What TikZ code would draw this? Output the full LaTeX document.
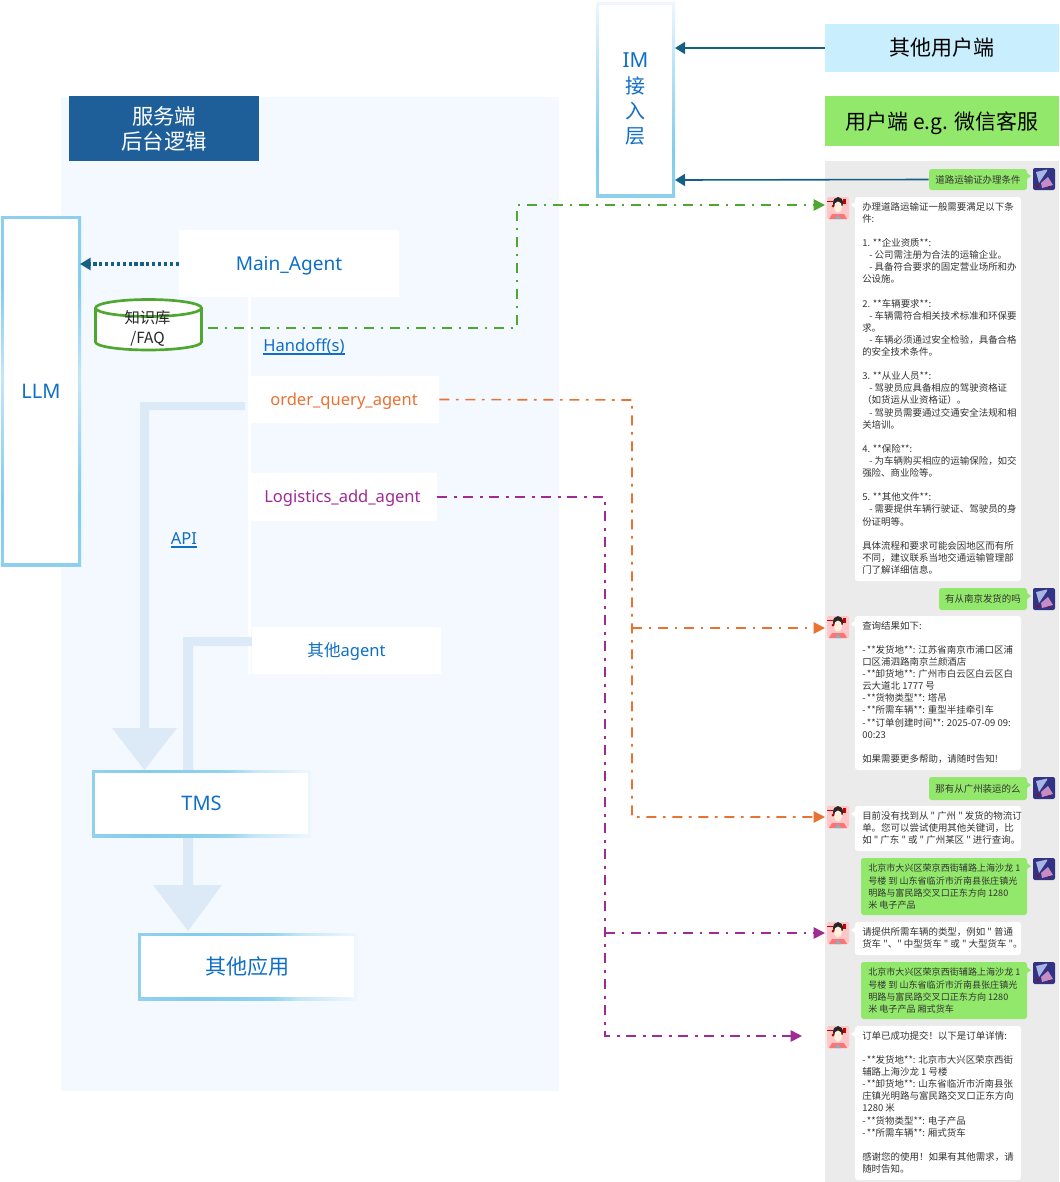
\documentclass[tikz,border=0pt]{standalone}
\usepackage{fontspec}
\usetikzlibrary{arrows.meta}
\setmainfont{Noto Sans}
\newfontfamily\cjk{Noto Sans CJK SC}
\definecolor{bluetxt}{HTML}{0F6FC6}
\definecolor{panelbg}{HTML}{F4F8FF}
\definecolor{headbg}{HTML}{1F5F99}
\definecolor{teal}{HTML}{156082}
\definecolor{grn}{HTML}{4EA72E}
\definecolor{org}{HTML}{E97132}
\definecolor{pur}{HTML}{A02B93}
\definecolor{band}{HTML}{DCE9F7}
\definecolor{chatbg}{HTML}{EBEBEB}
\definecolor{bubgreen}{HTML}{92E86A}
\definecolor{usersbg}{HTML}{C9EEFD}
\definecolor{c1}{HTML}{84CCEC}
\definecolor{c2}{HTML}{C4E6F8}
\definecolor{c3}{HTML}{EEF7FD}
\pgfdeclarehorizontalshading{ringh}{100bp}{color(0bp)=(c1!80!c2);color(25bp)=(c1!80!c2);color(37bp)=(c1);color(50bp)=(c1!85!c2);color(56bp)=(c1!70!c2);color(62bp)=(c2);color(75bp)=(c3);color(100bp)=(c3)}
\pgfdeclareverticalshading{ringllm}{100bp}{color(0bp)=(c1!85!c2);color(25bp)=(c1!85!c2);color(35bp)=(c1);color(52bp)=(c2);color(65bp)=(c1);color(75bp)=(c1!85!c2);color(100bp)=(c1!85!c2)}
\pgfdeclareverticalshading{ringim}{100bp}{color(0bp)=(c1!85!c2);color(25bp)=(c1!85!c2);color(37bp)=(c1);color(50bp)=(c1!50!c2);color(62bp)=(c2);color(75bp)=(c3);color(100bp)=(c3)}
\tikzset{
  lbl/.style={font=\fontsize{15}{19}\selectfont,text=bluetxt,align=center,inner sep=0pt},
  sublbl/.style={font=\fontsize{12.4}{15}\selectfont,text height=8.4pt,text depth=0pt},
  plain/.style={fill=white,inner sep=0pt},
  chat/.style={font=\cjk\fontsize{7.1}{9.08}\selectfont,text=black!80,align=left,inner sep=0pt,anchor=north west},
  gchat/.style={chat,font=\cjk\fontsize{6.8}{9.08}\selectfont},
  gshort/.style={gbub,inner sep=0pt,font=\cjk\fontsize{7.1}{9.08}\selectfont,text=black!80},
  flow/.style={line width=1.2pt,dash pattern=on 7.5pt off 5pt on 2pt off 5pt,-{Triangle[length=8.5pt,width=8.5pt]}},
  link/.style={teal,line width=1.2pt,-{Triangle[length=7.5pt,width=9pt]}},
  bandfill/.style={fill=band,draw=none},
  wbub/.style={fill=white,rounded corners=2pt,draw=none},
  gbub/.style={fill=bubgreen,rounded corners=2pt,draw=none},
}
% name, x1,y1,x2,y2, options, text
\newcommand\bx[7]{\node[minimum width={((#4)-(#2))*0.75pt},minimum height={((#5)-(#3))*0.75pt},#6] (#1) at ({(#2+#4)/2},{(#3+#5)/2}) {#7};}
\newcommand\ringbox[7]{\shade[shading=#6] (#2,#3) rectangle (#4,#5);
  \bx{#1}{#2+3}{#3+3}{#4-3}{#5-3}{plain,lbl}{#7}}
\newcommand\ul[1]{\setbox0\hbox{#1}\rlap{\rule[-2.6pt]{\wd0}{1.3pt}}\box0}
\newcommand\lav[1]{\begin{scope}[shift={(827,#1)}]
  \fill[red!22!white,rounded corners=1.5pt] (0,0) rectangle (22,22);
  \fill[red!55!white] (2,22) -- (5,17) -- (17,17) -- (20,22) -- cycle;
  \fill[teal!50!white] (8,22) -- (11,17.5) -- (14,22) -- cycle;
  \fill[black!85] (11,6) ellipse (5 and 6);
  \fill[orange!12!white] (11,10) ellipse (4 and 5.5);
  \fill[red!80!black] (0,3.5) rectangle (6,5);
  \fill[red!80!black] (16,2) rectangle (19,7);
  \fill[red!70!black] (6,9) circle (1.5);
  \end{scope}}
\newcommand\rav[1]{\begin{scope}[shift={(1033,#1)}]
  \fill[blue!40!black!80!white,rounded corners=1.5pt] (0,0) rectangle (22,22);
  \fill[cyan!40!blue!35!white] (3,4) -- (14,1.5) -- (14,3) -- (6,15) -- cycle;
  \fill[violet!45!white] (8,15) -- (15,9) -- (20,17) -- (9,20) -- cycle;
  \fill[red!70!black] (5,18) circle (1.4);
  \fill[red!70!black] (16,19) circle (1);
  \end{scope}}
\newcommand\wtail[1]{\fill[white] (855,#1+5) -- (851,#1+8) -- (855,#1+11) -- cycle;}
\newcommand\gtail[1]{\fill[bubgreen] (1027,#1+5) -- (1031,#1+8) -- (1027,#1+11) -- cycle;}
\newcommand\ind{\hspace*{5.25pt}}
\newcommand\hy{-\kern1pt}
\begin{document}
\begin{tikzpicture}[x=0.75pt,y=-0.75pt]
\useasboundingbox (0,0) rectangle (1060,1182);
% panel
\fill[panelbg] (61,97) rectangle (559,1091);
\bx{head}{69}{96}{259}{161}{fill=headbg,inner sep=0pt,text=white,align=center,font=\cjk\fontsize{16}{18.75}\selectfont}{服务端\\后台逻辑}
% bands
\fill[white] (248,297) rectangle (251,674);
\fill[bandfill] (245,402) -- (140,402) -- (140,728) -- (112,728) -- (144.5,770) -- (177,728) -- (149,728) -- (149,410) -- (245,410) -- cycle;
\fill[bandfill] (252,637) -- (183,637) -- (183,771) -- (193,771) -- (193,646) -- (252,646) -- cycle;
\fill[bandfill] (183,836) -- (183,885) -- (153,885) -- (188,931) -- (222,885) -- (193,885) -- (193,836) -- cycle;
% boxes
\ringbox{llm}{1}{216}{81}{566}{ringllm}{LLM}
\ringbox{im}{596}{2}{675}{197}{ringim}{\fontsize{15.5}{19}\selectfont IM\\{\cjk 接}\\{\cjk 入}\\{\cjk 层}}
\ringbox{tms}{92}{770}{311}{837}{ringh}{TMS}
\ringbox{apps}{138}{933}{357}{1000}{ringh}{\cjk\fontsize{15.8}{19}\selectfont 其他应用}
\bx{main}{179}{230}{399}{297}{plain,lbl,font=\fontsize{14.3}{17}\selectfont,text height=10.8pt,text depth=0pt}{Main\_Agent}
\bx{order}{249}{376}{439}{423}{plain,lbl,sublbl,text=org}{order\_query\_agent}
\bx{logi}{248}{473}{437}{521}{plain,lbl,sublbl,text=pur}{Logistics\_add\_agent}
\bx{other}{252}{627}{441}{674}{plain,lbl,sublbl}{{\cjk 其他}agent}
\node[lbl,font=\fontsize{12.4}{15}\selectfont] (handoff) at (304,347) {\ul{Handoff(s)}};
\node[lbl,font=\fontsize{12.4}{15}\selectfont] (api) at (184,540) {\ul{API}};
% knowledge base cylinder
\fill[white] (95.5,308) -- (95.5,342) arc[start angle=180,end angle=0,x radius=53,y radius=8] -- (201.5,308) -- cycle;
\fill[white] (148.5,308) ellipse (53 and 8.5);
\draw[grn,line width=2pt] (95.5,308) -- (95.5,342) arc[start angle=180,end angle=0,x radius=53,y radius=8] -- (201.5,308);
\draw[grn,line width=2pt] (148.5,308) ellipse (53 and 8.5);
\node[inner sep=0pt,align=center,text=black!85,font=\cjk\fontsize{11.5}{15}\selectfont] (kb) at (147.5,328) {知识库\\/FAQ};
% top right
\bx{users}{825}{24}{1059}{72}{fill=usersbg,inner sep=0pt,font=\cjk\fontsize{15.75}{18}\selectfont}{其他用户端}
\bx{wx}{825}{96}{1059}{146}{fill=bubgreen,inner sep=0pt,font=\cjk\fontsize{15.7}{18}\selectfont,text height=12.8pt,text depth=0pt}{用户端 e.g. 微信客服}
% chat
\fill[chatbg] (825,161) rectangle (1059,1182);
\foreach \y in {197,616,806,922,1026} {\lav{\y}\wtail{\y}}
\foreach \y in {168,588,777,858,962} {\rav{\y}\gtail{\y}}
\bx{g1}{929}{169}{1027}{190}{gshort}{道路运输证办理条件}
\bx{g2}{939}{588}{1027}{610}{gshort}{有从南京发货的吗}
\bx{g3}{929}{777}{1027}{800}{gshort}{那有从广州装运的么}
\fill[wbub] (855,197) rectangle (1021,581);
\fill[wbub] (855,616) rectangle (1021,770);
\fill[wbub] (855,806) rectangle (1021,851);
\fill[gbub] (861,858) rectangle (1027,915);
\fill[wbub] (855,922) rectangle (1021,955);
\fill[gbub] (861,962) rectangle (1027,1019);
\fill[wbub] (855,1026) rectangle (1021,1180);
\node[chat] (t1) at (862,202) {办理道路运输证一般需要满足以下条\\件:\\\mbox{}\\
1. **企业资质**:\\\ind - 公司需注册为合法的运输企业。\\\ind - 具备符合要求的固定营业场所和办\\公设施。\\\mbox{}\\
2. **车辆要求**:\\\ind - 车辆需符合相关技术标准和环保要\\求。\\\ind - 车辆必须通过安全检验，具备合格\\的安全技术条件。\\\mbox{}\\
3. **从业人员**:\\\ind - 驾驶员应具备相应的驾驶资格证\\（如货运从业资格证）。\\\ind - 驾驶员需要通过交通安全法规和相\\关培训。\\\mbox{}\\
4. **保险**:\\\ind - 为车辆购买相应的运输保险，如交\\强险、商业险等。\\\mbox{}\\
5. **其他文件**:\\\ind - 需要提供车辆行驶证、驾驶员的身\\份证明等。\\\mbox{}\\
具体流程和要求可能会因地区而有所\\不同，建议联系当地交通运输管理部\\门了解详细信息。};
\node[chat] (t2) at (862,621) {查询结果如下:\\\mbox{}\\\hy **发货地**: 江苏省南京市浦口区浦\\口区浦泗路南京兰颜酒店\\\hy **卸货地**: 广州市白云区白云区白\\云大道北 1777 号\\\hy **货物类型**: 塔吊\\\hy **所需车辆**: 重型半挂牵引车\\\hy **订单创建时间**: 2025-07-09 09:\\00:23\\\mbox{}\\如果需要更多帮助，请随时告知!};
\node[chat] (t3) at (862,811) {目前没有找到从 " 广州 " 发货的物流订\\单。您可以尝试使用其他关键词，比\\如 " 广东 " 或 " 广州某区 " 进行查询。};
\node[gchat] (t4) at (868,864) {北京市大兴区荣京西街辅路上海沙龙 1\\号楼 到 山东省临沂市沂南县张庄镇光\\明路与富民路交叉口正东方向 1280\\米 电子产品};
\node[chat] (t5) at (862,927) {请提供所需车辆的类型，例如 " 普通\\货车 "、" 中型货车 " 或 " 大型货车 "。};
\node[gchat] (t6) at (868,968) {北京市大兴区荣京西街辅路上海沙龙 1\\号楼 到 山东省临沂市沂南县张庄镇光\\明路与富民路交叉口正东方向 1280\\米 电子产品 厢式货车};
\node[chat] (t7) at (862,1031) {订单已成功提交！以下是订单详情:\\\mbox{}\\\hy **发货地**: 北京市大兴区荣京西街\\辅路上海沙龙 1 号楼\\\hy **卸货地**: 山东省临沂市沂南县张\\庄镇光明路与富民路交叉口正东方向\\1280 米\\\hy **货物类型**: 电子产品\\\hy **所需车辆**: 厢式货车\\\mbox{}\\感谢您的使用！如果有其他需求，请\\随时告知。};
% connectors
\coordinate (av1) at (825,205);
\coordinate (av2) at (825,628);
\coordinate (av3) at (825,817);
\coordinate (av4) at (825,933);
\coordinate (av5) at (802,1036);
\coordinate (kbout) at (208,328);
\coordinate (imusers) at (675,48);
\coordinate (imchat) at (675,180);
\coordinate (llmin) at (80,264);
\draw[link] (users.west) -- (imusers);
\draw[link] (g1.west) -- (imchat);
\draw[teal,line width=2.4pt,dash pattern=on 2.4pt off 2pt,-{Triangle[length=8pt,width=9pt]}] (main.west |- llmin) -- (llmin);
\draw[flow,grn] (kbout) -- (517,328) -- (517,205) -- (av1);
\draw[flow,org] (order.east) -- (632,400) -- (632,817) -- (av3);
\draw[flow,org] (632,628) -- (av2);
\draw[flow,pur] (logi.east) -- (605,497) -- (605,1036) -- (av5);
\draw[flow,pur] (605,933) -- (av4);
\end{tikzpicture}
\end{document}
